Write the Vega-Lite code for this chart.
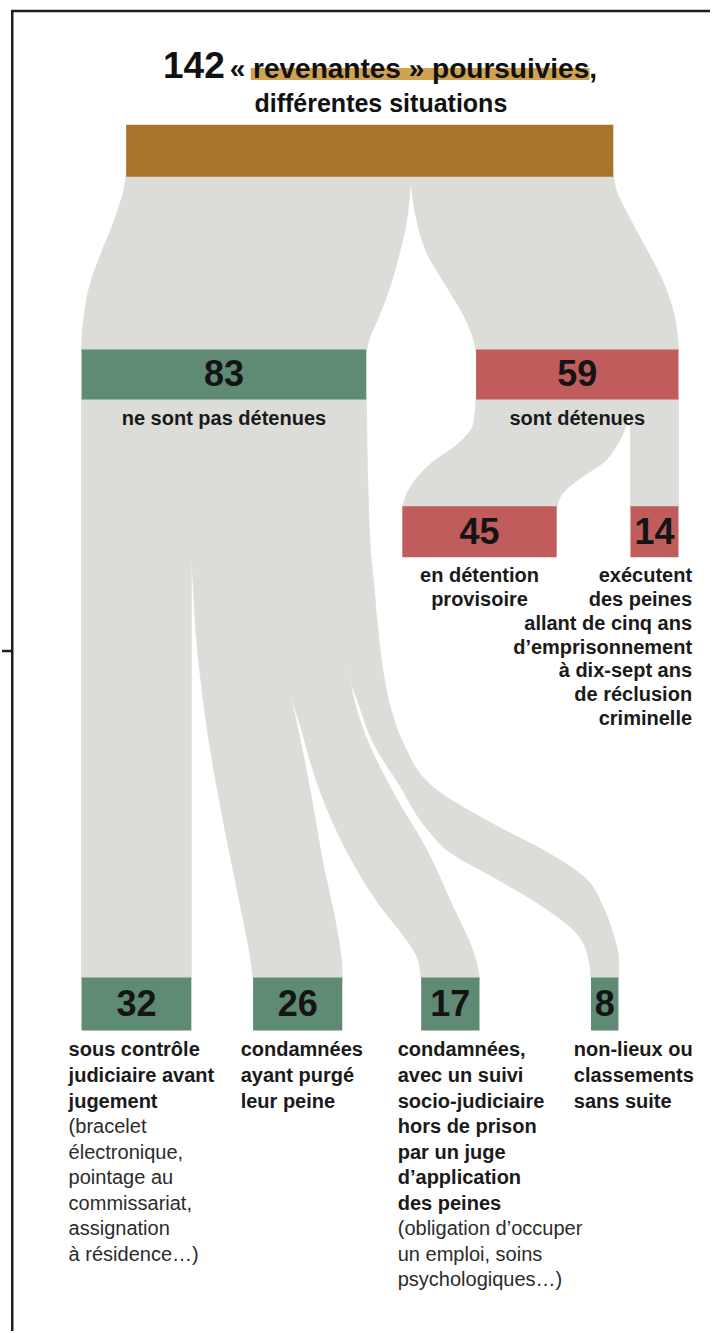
{
  "$schema": "https://vega.github.io/schema/vega-lite/v6.json",
  "width": 712,
  "height": 1333,
  "padding": 0,
  "autosize": {"type": "fit", "contains": "padding"},
  "background": "#ffffff",
  "config": {"view": {"stroke": null}, "text": {"font": "Liberation Sans"}},
  "datasets": {
    "nodes": [
      {"id": "total", "categorie": "total", "value": 142, "x0": 13, "x1": 155, "y0": 125, "y1": 177},
      {"id": "libres", "categorie": "non détenues", "value": 83, "x0": 0, "x1": 83, "y0": 350, "y1": 400},
      {"id": "detenues", "categorie": "détenues", "value": 59, "x0": 115, "x1": 174, "y0": 350, "y1": 400},
      {"id": "provisoire", "categorie": "détenues", "value": 45, "x0": 93.5, "x1": 138.5, "y0": 507, "y1": 558},
      {"id": "peines", "categorie": "détenues", "value": 14, "x0": 160, "x1": 174, "y0": 507, "y1": 558},
      {"id": "controle", "categorie": "non détenues", "value": 32, "x0": 0, "x1": 32, "y0": 979, "y1": 1032},
      {"id": "purge", "categorie": "non détenues", "value": 26, "x0": 50, "x1": 76, "y0": 979, "y1": 1032},
      {"id": "suivi", "categorie": "non détenues", "value": 17, "x0": 99, "x1": 116, "y0": 979, "y1": 1032},
      {"id": "nonlieu", "categorie": "non détenues", "value": 8, "x0": 148.5, "x1": 156.5, "y0": 979, "y1": 1032}
    ],
    "flows": [
      {"flow": "total-libres", "y": 175, "x": 13, "x2": 96},
      {"flow": "total-libres", "y": 187, "x": 12.5, "x2": 95.8},
      {"flow": "total-libres", "y": 220, "x": 9.6, "x2": 94.8},
      {"flow": "total-libres", "y": 253, "x": 5.8, "x2": 92.7},
      {"flow": "total-libres", "y": 287, "x": 2.3, "x2": 89.9},
      {"flow": "total-libres", "y": 320, "x": 0.6, "x2": 86.3},
      {"flow": "total-libres", "y": 340, "x": 0.1, "x2": 83.8},
      {"flow": "total-libres", "y": 352, "x": 0, "x2": 83},
      {"flow": "total-detenues", "y": 175, "x": 96, "x2": 155},
      {"flow": "total-detenues", "y": 187, "x": 96.2, "x2": 155.6},
      {"flow": "total-detenues", "y": 220, "x": 97.7, "x2": 160},
      {"flow": "total-detenues", "y": 253, "x": 100.6, "x2": 165.2},
      {"flow": "total-detenues", "y": 287, "x": 106.4, "x2": 170.1},
      {"flow": "total-detenues", "y": 320, "x": 112, "x2": 173},
      {"flow": "total-detenues", "y": 340, "x": 114.3, "x2": 173.8},
      {"flow": "total-detenues", "y": 352, "x": 115, "x2": 174},
      {"flow": "detenues-provisoire", "y": 398, "x": 115, "x2": 160},
      {"flow": "detenues-provisoire", "y": 425, "x": 114.2, "x2": 158.8},
      {"flow": "detenues-provisoire", "y": 445, "x": 109.6, "x2": 156.2},
      {"flow": "detenues-provisoire", "y": 463, "x": 102.3, "x2": 152.2},
      {"flow": "detenues-provisoire", "y": 480, "x": 97.4, "x2": 144.9},
      {"flow": "detenues-provisoire", "y": 495, "x": 94.8, "x2": 140},
      {"flow": "detenues-provisoire", "y": 509, "x": 93.5, "x2": 138.5},
      {"flow": "detenues-peines", "y": 398, "x": 160, "x2": 174},
      {"flow": "detenues-peines", "y": 509, "x": 160, "x2": 174},
      {"flow": "libres-controle", "y": 398, "x": 0, "x2": 32},
      {"flow": "libres-controle", "y": 981, "x": 0, "x2": 32},
      {"flow": "libres-purge", "y": 398, "x": 32, "x2": 58},
      {"flow": "libres-purge", "y": 540, "x": 32, "x2": 58.2},
      {"flow": "libres-purge", "y": 590, "x": 32.6, "x2": 58.4},
      {"flow": "libres-purge", "y": 635, "x": 33.4, "x2": 58.9},
      {"flow": "libres-purge", "y": 682, "x": 34.8, "x2": 60},
      {"flow": "libres-purge", "y": 727, "x": 36.5, "x2": 62.9},
      {"flow": "libres-purge", "y": 793, "x": 39.7, "x2": 66.7},
      {"flow": "libres-purge", "y": 860, "x": 43.5, "x2": 70.1},
      {"flow": "libres-purge", "y": 927, "x": 47.5, "x2": 74.2},
      {"flow": "libres-purge", "y": 960, "x": 49.3, "x2": 75.7},
      {"flow": "libres-purge", "y": 981, "x": 50, "x2": 76},
      {"flow": "libres-suivi", "y": 398, "x": 58, "x2": 75},
      {"flow": "libres-suivi", "y": 540, "x": 58.2, "x2": 75.6},
      {"flow": "libres-suivi", "y": 590, "x": 58.4, "x2": 76.3},
      {"flow": "libres-suivi", "y": 635, "x": 58.9, "x2": 77.3},
      {"flow": "libres-suivi", "y": 682, "x": 60, "x2": 78.3},
      {"flow": "libres-suivi", "y": 727, "x": 63.8, "x2": 81.7},
      {"flow": "libres-suivi", "y": 793, "x": 69.6, "x2": 90.7},
      {"flow": "libres-suivi", "y": 853, "x": 77.4, "x2": 100.9},
      {"flow": "libres-suivi", "y": 907, "x": 87, "x2": 108.1},
      {"flow": "libres-suivi", "y": 943, "x": 95.1, "x2": 113},
      {"flow": "libres-suivi", "y": 960, "x": 98, "x2": 114.8},
      {"flow": "libres-suivi", "y": 981, "x": 99, "x2": 116},
      {"flow": "libres-nonlieu", "y": 398, "x": 75, "x2": 83},
      {"flow": "libres-nonlieu", "y": 540, "x": 75.6, "x2": 84},
      {"flow": "libres-nonlieu", "y": 590, "x": 76.3, "x2": 85.3},
      {"flow": "libres-nonlieu", "y": 635, "x": 77.3, "x2": 86.5},
      {"flow": "libres-nonlieu", "y": 683, "x": 78.6, "x2": 88.4},
      {"flow": "libres-nonlieu", "y": 703, "x": 80.6, "x2": 89.6},
      {"flow": "libres-nonlieu", "y": 743, "x": 84.9, "x2": 93.6},
      {"flow": "libres-nonlieu", "y": 787, "x": 92.8, "x2": 102},
      {"flow": "libres-nonlieu", "y": 827, "x": 100, "x2": 120.9},
      {"flow": "libres-nonlieu", "y": 853, "x": 107.2, "x2": 135.4},
      {"flow": "libres-nonlieu", "y": 880, "x": 120.9, "x2": 147},
      {"flow": "libres-nonlieu", "y": 910, "x": 135.4, "x2": 152.2},
      {"flow": "libres-nonlieu", "y": 937, "x": 144.9, "x2": 155.1},
      {"flow": "libres-nonlieu", "y": 960, "x": 147.8, "x2": 156.5},
      {"flow": "libres-nonlieu", "y": 981, "x": 148.5, "x2": 156.5}
    ],
    "labels": [
      {"ancrage": "centre", "graisse": "gras", "x": 41.5, "y": 420, "text": "ne sont pas détenues"},
      {"ancrage": "centre", "graisse": "gras", "x": 144.5, "y": 420, "text": "sont détenues"},
      {"ancrage": "centre", "graisse": "gras", "x": 116, "y": 577, "text": "en détention"},
      {"ancrage": "centre", "graisse": "gras", "x": 116, "y": 601, "text": "provisoire"},
      {"ancrage": "droite", "graisse": "gras", "x": 177.97, "y": 577, "text": "exécutent"},
      {"ancrage": "droite", "graisse": "gras", "x": 177.97, "y": 601, "text": "des peines"},
      {"ancrage": "droite", "graisse": "gras", "x": 177.97, "y": 625, "text": "allant de cinq ans"},
      {"ancrage": "droite", "graisse": "gras", "x": 177.97, "y": 649, "text": "d’emprisonnement"},
      {"ancrage": "droite", "graisse": "gras", "x": 177.97, "y": 672, "text": "à dix-sept ans"},
      {"ancrage": "droite", "graisse": "gras", "x": 177.97, "y": 696, "text": "de réclusion"},
      {"ancrage": "droite", "graisse": "gras", "x": 177.97, "y": 720, "text": "criminelle"},
      {"ancrage": "gauche", "graisse": "gras", "x": -3.77, "y": 1052, "text": "sous contrôle"},
      {"ancrage": "gauche", "graisse": "gras", "x": -3.77, "y": 1077.6, "text": "judiciaire avant"},
      {"ancrage": "gauche", "graisse": "gras", "x": -3.77, "y": 1103.2, "text": "jugement"},
      {"ancrage": "gauche", "graisse": "normal", "x": -3.77, "y": 1128.8, "text": "(bracelet"},
      {"ancrage": "gauche", "graisse": "normal", "x": -3.77, "y": 1154.4, "text": "électronique,"},
      {"ancrage": "gauche", "graisse": "normal", "x": -3.77, "y": 1180, "text": "pointage au"},
      {"ancrage": "gauche", "graisse": "normal", "x": -3.77, "y": 1205.6, "text": "commissariat,"},
      {"ancrage": "gauche", "graisse": "normal", "x": -3.77, "y": 1231.2, "text": "assignation"},
      {"ancrage": "gauche", "graisse": "normal", "x": -3.77, "y": 1256.8, "text": "à résidence…)"},
      {"ancrage": "gauche", "graisse": "gras", "x": 46.38, "y": 1052, "text": "condamnées"},
      {"ancrage": "gauche", "graisse": "gras", "x": 46.38, "y": 1077.6, "text": "ayant purgé"},
      {"ancrage": "gauche", "graisse": "gras", "x": 46.38, "y": 1103.2, "text": "leur peine"},
      {"ancrage": "gauche", "graisse": "gras", "x": 92.17, "y": 1052, "text": "condamnées,"},
      {"ancrage": "gauche", "graisse": "gras", "x": 92.17, "y": 1077.6, "text": "avec un suivi"},
      {"ancrage": "gauche", "graisse": "gras", "x": 92.17, "y": 1103.2, "text": "socio-judiciaire"},
      {"ancrage": "gauche", "graisse": "gras", "x": 92.17, "y": 1128.8, "text": "hors de prison"},
      {"ancrage": "gauche", "graisse": "gras", "x": 92.17, "y": 1154.4, "text": "par un juge"},
      {"ancrage": "gauche", "graisse": "gras", "x": 92.17, "y": 1180, "text": "d’application"},
      {"ancrage": "gauche", "graisse": "gras", "x": 92.17, "y": 1205.6, "text": "des peines"},
      {"ancrage": "gauche", "graisse": "normal", "x": 92.17, "y": 1231.2, "text": "(obligation d’occuper"},
      {"ancrage": "gauche", "graisse": "normal", "x": 92.17, "y": 1256.8, "text": "un emploi, soins"},
      {"ancrage": "gauche", "graisse": "normal", "x": 92.17, "y": 1282.4, "text": "psychologiques…)"},
      {"ancrage": "gauche", "graisse": "gras", "x": 143.48, "y": 1052, "text": "non-lieux ou"},
      {"ancrage": "gauche", "graisse": "gras", "x": 143.48, "y": 1077.6, "text": "classements"},
      {"ancrage": "gauche", "graisse": "gras", "x": 143.48, "y": 1103.2, "text": "sans suite"}
    ],
    "surlignage": [
      {"x0": 49.3, "x1": 148.1, "y0": 68, "y1": 80}
    ],
    "frame": [
      {"x": -20.2, "x2": -20.2, "y": 10, "y2": 1333},
      {"x": -20.5, "x2": 183.19, "y": 11, "y2": 11},
      {"x": -23.19, "x2": -20.2, "y": 652, "y2": 652}
    ]
  },
  "layer": [
    {
      "data": {"name": "surlignage"},
      "mark": {"type": "rect", "color": "#cfa352"},
      "encoding": {
        "x": {"field": "x0", "type": "quantitative", "scale": {"domain": [-23.19, 183.19], "nice": false, "zero": false}, "axis": null},
        "x2": {"field": "x1"},
        "y": {"field": "y0", "type": "quantitative", "scale": {"domain": [0, 1333], "reverse": true, "nice": false, "zero": false}, "axis": null},
        "y2": {"field": "y1"}
      }
    },
    {
      "data": {"name": "flows"},
      "mark": {"type": "area", "orient": "horizontal", "interpolate": "monotone", "color": "#dcdcd9", "stroke": "#dcdcd9", "strokeWidth": 0.8, "opacity": 1},
      "encoding": {
        "y": {"field": "y", "type": "quantitative", "scale": {"domain": [0, 1333], "reverse": true, "nice": false, "zero": false}, "axis": null},
        "x": {"field": "x", "type": "quantitative", "stack": null, "scale": {"domain": [-23.19, 183.19], "nice": false, "zero": false}, "axis": null},
        "x2": {"field": "x2"},
        "detail": {"field": "flow", "type": "nominal"}
      }
    },
    {
      "data": {"name": "nodes"},
      "mark": {"type": "rect"},
      "encoding": {
        "x": {"field": "x0", "type": "quantitative", "scale": {"domain": [-23.19, 183.19], "nice": false, "zero": false}, "axis": null},
        "x2": {"field": "x1"},
        "y": {"field": "y0", "type": "quantitative", "scale": {"domain": [0, 1333], "reverse": true, "nice": false, "zero": false}, "axis": null},
        "y2": {"field": "y1"},
        "color": {"field": "categorie", "type": "nominal", "legend": null, "scale": {"domain": ["total", "non détenues", "détenues"], "range": ["#a8742a", "#5f8a73", "#c05c5b"]}}
      }
    },
    {
      "data": {"name": "nodes"},
      "transform": [
        {"filter": "datum.id != 'total'"},
        {"calculate": "(datum.x0 + datum.x1) / 2", "as": "xm"},
        {"calculate": "(datum.y0 + datum.y1) / 2", "as": "ym"}
      ],
      "mark": {"type": "text", "font": "Liberation Sans", "fontWeight": "bold", "fontSize": 36, "align": "center", "baseline": "middle", "color": "#141414", "dy": 1},
      "encoding": {
        "x": {"field": "xm", "type": "quantitative", "scale": {"domain": [-23.19, 183.19], "nice": false, "zero": false}, "axis": null},
        "y": {"field": "ym", "type": "quantitative", "scale": {"domain": [0, 1333], "reverse": true, "nice": false, "zero": false}, "axis": null},
        "text": {"field": "value", "type": "quantitative"}
      }
    },
    {
      "data": {"name": "labels"},
      "transform": [{"filter": "datum.ancrage == 'centre'"}],
      "mark": {"type": "text", "font": "Liberation Sans", "fontWeight": "bold", "fontSize": 20, "align": "center", "baseline": "middle", "color": "#1a1a1a"},
      "encoding": {
        "x": {"field": "x", "type": "quantitative", "scale": {"domain": [-23.19, 183.19], "nice": false, "zero": false}, "axis": null},
        "y": {"field": "y", "type": "quantitative", "scale": {"domain": [0, 1333], "reverse": true, "nice": false, "zero": false}, "axis": null},
        "text": {"field": "text", "type": "nominal"}
      }
    },
    {
      "data": {"name": "labels"},
      "transform": [{"filter": "datum.ancrage == 'droite'"}],
      "mark": {"type": "text", "font": "Liberation Sans", "fontWeight": "bold", "fontSize": 20, "align": "right", "baseline": "middle", "color": "#1a1a1a"},
      "encoding": {
        "x": {"field": "x", "type": "quantitative", "scale": {"domain": [-23.19, 183.19], "nice": false, "zero": false}, "axis": null},
        "y": {"field": "y", "type": "quantitative", "scale": {"domain": [0, 1333], "reverse": true, "nice": false, "zero": false}, "axis": null},
        "text": {"field": "text", "type": "nominal"}
      }
    },
    {
      "data": {"name": "labels"},
      "transform": [{"filter": "datum.ancrage == 'gauche' && datum.graisse == 'gras'"}],
      "mark": {"type": "text", "font": "Liberation Sans", "fontWeight": "bold", "fontSize": 20, "align": "left", "baseline": "middle", "color": "#1a1a1a"},
      "encoding": {
        "x": {"field": "x", "type": "quantitative", "scale": {"domain": [-23.19, 183.19], "nice": false, "zero": false}, "axis": null},
        "y": {"field": "y", "type": "quantitative", "scale": {"domain": [0, 1333], "reverse": true, "nice": false, "zero": false}, "axis": null},
        "text": {"field": "text", "type": "nominal"}
      }
    },
    {
      "data": {"name": "labels"},
      "transform": [{"filter": "datum.ancrage == 'gauche' && datum.graisse == 'normal'"}],
      "mark": {"type": "text", "font": "Liberation Sans", "fontWeight": "normal", "fontSize": 20, "align": "left", "baseline": "middle", "color": "#2b2b2b"},
      "encoding": {
        "x": {"field": "x", "type": "quantitative", "scale": {"domain": [-23.19, 183.19], "nice": false, "zero": false}, "axis": null},
        "y": {"field": "y", "type": "quantitative", "scale": {"domain": [0, 1333], "reverse": true, "nice": false, "zero": false}, "axis": null},
        "text": {"field": "text", "type": "nominal"}
      }
    },
    {
      "data": {"values": [{"x": 41.74, "y": 78, "text": "142"}]},
      "mark": {"type": "text", "font": "Liberation Sans", "fontWeight": "bold", "fontSize": 37, "align": "right", "baseline": "alphabetic", "color": "#111111"},
      "encoding": {
        "x": {"field": "x", "type": "quantitative", "scale": {"domain": [-23.19, 183.19], "nice": false, "zero": false}, "axis": null},
        "y": {"field": "y", "type": "quantitative", "scale": {"domain": [0, 1333], "reverse": true, "nice": false, "zero": false}, "axis": null},
        "text": {"field": "text", "type": "nominal"}
      }
    },
    {
      "data": {"values": [{"x": 43.19, "y": 78, "text": "« revenantes » poursuivies,"}]},
      "mark": {"type": "text", "font": "Liberation Sans", "fontWeight": "bold", "fontSize": 28, "align": "left", "baseline": "alphabetic", "color": "#111111"},
      "encoding": {
        "x": {"field": "x", "type": "quantitative", "scale": {"domain": [-23.19, 183.19], "nice": false, "zero": false}, "axis": null},
        "y": {"field": "y", "type": "quantitative", "scale": {"domain": [0, 1333], "reverse": true, "nice": false, "zero": false}, "axis": null},
        "text": {"field": "text", "type": "nominal"}
      }
    },
    {
      "data": {"values": [{"x": 87.25, "y": 112, "text": "différentes situations"}]},
      "mark": {"type": "text", "font": "Liberation Sans", "fontWeight": "bold", "fontSize": 25, "align": "center", "baseline": "alphabetic", "color": "#111111"},
      "encoding": {
        "x": {"field": "x", "type": "quantitative", "scale": {"domain": [-23.19, 183.19], "nice": false, "zero": false}, "axis": null},
        "y": {"field": "y", "type": "quantitative", "scale": {"domain": [0, 1333], "reverse": true, "nice": false, "zero": false}, "axis": null},
        "text": {"field": "text", "type": "nominal"}
      }
    },
    {
      "data": {"name": "frame"},
      "mark": {"type": "rule", "color": "#1e1e1e", "strokeWidth": 2.5},
      "encoding": {
        "x": {"field": "x", "type": "quantitative", "scale": {"domain": [-23.19, 183.19], "nice": false, "zero": false}, "axis": null},
        "x2": {"field": "x2"},
        "y": {"field": "y", "type": "quantitative", "scale": {"domain": [0, 1333], "reverse": true, "nice": false, "zero": false}, "axis": null},
        "y2": {"field": "y2"}
      }
    }
  ]
}
